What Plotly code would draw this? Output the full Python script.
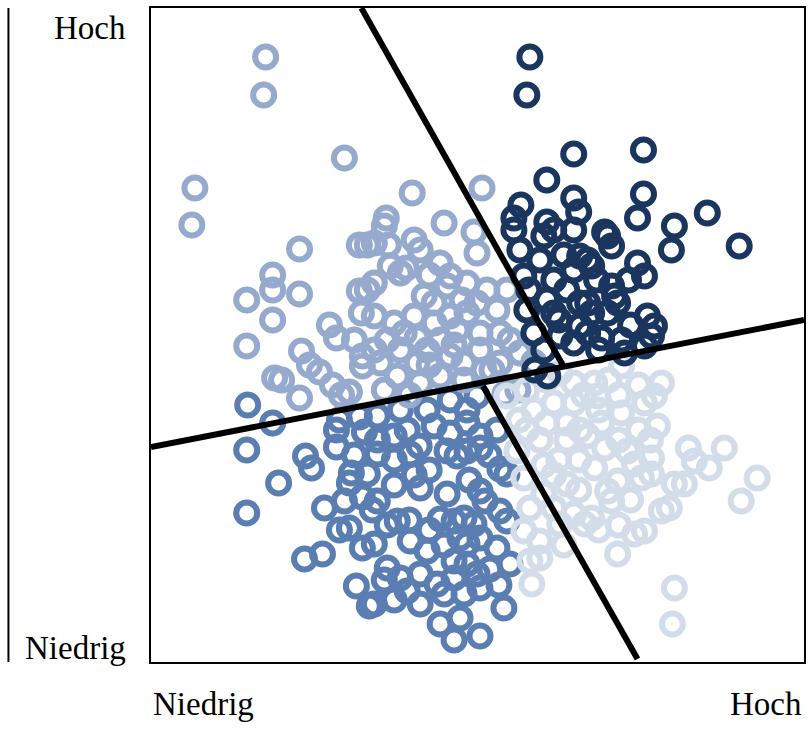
import plotly.graph_objects as go

# Data units: x 0..655 (Niedrig -> Hoch), y 0..654 (Niedrig -> Hoch)
a_x = [115,113,194,44,41,262,332,236,294,324,149,209,217,122,122,96,149,122,209,217,211,179,186,96,151,159,124,131,149,182,191,212,212,
       234,264,270,224,240,250,290,300,297,327,327,317,357,274,284,264,244,224,224,254,250,284,300,307,290,277,267,247,300,314,330,330,350,360,370,350,334,314,290,270,234,230,317,337,224,
       238,256,279,312,347,267,237,304,279,342,384,204,169,259,199,355,368]
a_y = [605,567,504,474,437,469,474,444,439,430,413,417,417,387,372,362,368,342,371,372,349,337,324,316,311,297,284,282,264,277,267,306,296,
       436,422,412,419,396,389,399,386,376,409,359,349,372,366,359,346,339,346,312,329,312,339,346,332,322,312,299,286,306,299,312,329,329,322,309,299,292,282,286,279,272,299,379,372,379,
       417,394,387,362,352,324,322,317,297,292,300,322,290,267,270,268,272]

b_x = [380,377,424,397,371,364,397,424,429,494,494,488,455,525,558,590,522,488,495,498,505,502,495,472,475,462,465,458,468,458,462,438,442,438,442,438,
       364,370,394,404,424,390,430,374,404,424,377,397,404,417,430,384,394,410,424,430,
       452,479,409,449,379,414,447,481,385,398]
b_y = [605,567,508,482,457,444,440,464,450,512,468,444,430,436,449,416,412,399,386,346,336,326,316,322,309,376,366,349,359,426,416,402,396,359,349,329,
       432,412,426,432,432,402,406,386,382,392,352,362,349,372,359,329,312,326,319,336,
       324,382,342,312,372,407,382,337,292,286]

c_x = [97,122,186,96,155,161,128,96,174,194,199,199,212,154,172,206,219,186,227,260,297,307,317,330,350,357,217,270,297,330,335,227,247,290,304,314,324,350,357,
       224,260,277,310,317,330,347,237,250,270,287,304,317,327,340,360,224,257,270,294,314,330,354,290,310,330,
       227,250,277,300,317,327,257,284,300,317,330,347,244,227,
       189,209,214,244,279,201,212,244,319,269,339,204,237,222,259,279,349,304,189,244,304,264,294,234]
c_y = [257,239,232,212,206,194,179,149,154,161,179,134,114,103,108,76,56,215,208,208,211,206,211,214,193,188,188,174,168,171,161,161,141,143,141,144,138,151,141,
       118,121,111,124,118,124,114,94,84,88,78,101,98,88,93,98,58,71,58,68,68,74,54,38,44,26,
       246,252,252,262,252,266,232,236,229,239,226,232,226,222,
       242,245,230,202,192,189,165,177,182,216,207,207,137,152,142,132,77,84,132,62,22,187,117,82]

d_x = [367,374,380,394,404,410,374,390,380,390,382,424,417,
       575,608,592,545,560,535,525,520,512,495,485,468,525,523,502,502,492,485,458,462,442,435,478,445,455,468,
       512,505,472,495,508,445,448,472,452,438,
       357,377,397,410,424,384,404,424,377,397,417,430,390,417,
       429,409,429,469,489,459,434,369,394,414,449,481,501,539,469,489,449,404,469]
d_y = [211,184,154,168,154,138,131,121,101,104,78,148,178,
       214,184,161,201,194,178,178,154,151,131,128,108,74,38,204,188,184,198,171,161,144,138,211,194,214,181,
       279,266,249,259,236,279,266,296,239,226,
       266,272,282,289,279,252,259,259,232,239,239,232,222,222,
       202,202,172,222,232,282,267,242,197,117,132,162,222,214,267,277,252,187,137]

# Divider lines (data units)
h_line_x = [0, 655]
h_line_y = [215, 342]
up_line_x = [211, 413]
up_line_y = [654, 297]
low_line_x = [333, 488]
low_line_y = [276, 3]

axis_low = "Niedrig"
axis_high = "Hoch"

groups = [
    (c_x, c_y, "#5a7db2"),
    (a_x, a_y, "#95aacd"),
    (d_x, d_y, "#d3dde9"),
    (b_x, b_y, "#1b365e"),
]

fig = go.Figure()
for gx, gy, col in groups:
    fig.add_trace(go.Scatter(
        x=gx, y=gy, mode="markers",
        marker=dict(symbol="circle-open", size=21, color=col, line=dict(width=6, color=col)),
        hoverinfo="skip", showlegend=False))

for lx, ly in [(h_line_x, h_line_y), (up_line_x, up_line_y), (low_line_x, low_line_y)]:
    fig.add_trace(go.Scatter(x=lx, y=ly, mode="lines", line=dict(color="black", width=6),
                             hoverinfo="skip", showlegend=False))

font = dict(family="Liberation Serif, Times New Roman, serif", size=33, color="black")
fig.add_annotation(text=axis_high, xref="paper", yref="paper", x=-0.035, y=0.970,
                   xanchor="right", yanchor="middle", showarrow=False, font=font)
fig.add_annotation(text=axis_low, xref="paper", yref="paper", x=-0.035, y=0.022,
                   xanchor="right", yanchor="middle", showarrow=False, font=font)
fig.add_annotation(text=axis_low, xref="paper", yref="paper", x=0.0, y=-0.064,
                   xanchor="left", yanchor="middle", showarrow=False, font=font)
fig.add_annotation(text=axis_high, xref="paper", yref="paper", x=1.0, y=-0.064,
                   xanchor="right", yanchor="middle", showarrow=False, font=font)

fig.add_shape(type="line", xref="paper", yref="paper", x0=-0.2183, x1=-0.2183, y0=0, y1=1,
              line=dict(color="black", width=2))

fig.update_xaxes(range=[0, 655], showgrid=False, zeroline=False, showticklabels=False, ticks="",
                 showline=True, mirror=True, linecolor="black", linewidth=2)
fig.update_yaxes(range=[0, 654], showgrid=False, zeroline=False, showticklabels=False, ticks="",
                 showline=True, mirror=True, linecolor="black", linewidth=2)
fig.update_layout(width=808, height=732, margin=dict(l=151, r=2, t=8, b=70),
                  plot_bgcolor="white", paper_bgcolor="white")

fig.write_html(
    "out.html",
    config={"displayModeBar": False},
    post_script=("document.body.style.margin='0';"
                 "document.body.style.overflow='hidden';"
                 "document.documentElement.style.overflow='hidden';"),
)
